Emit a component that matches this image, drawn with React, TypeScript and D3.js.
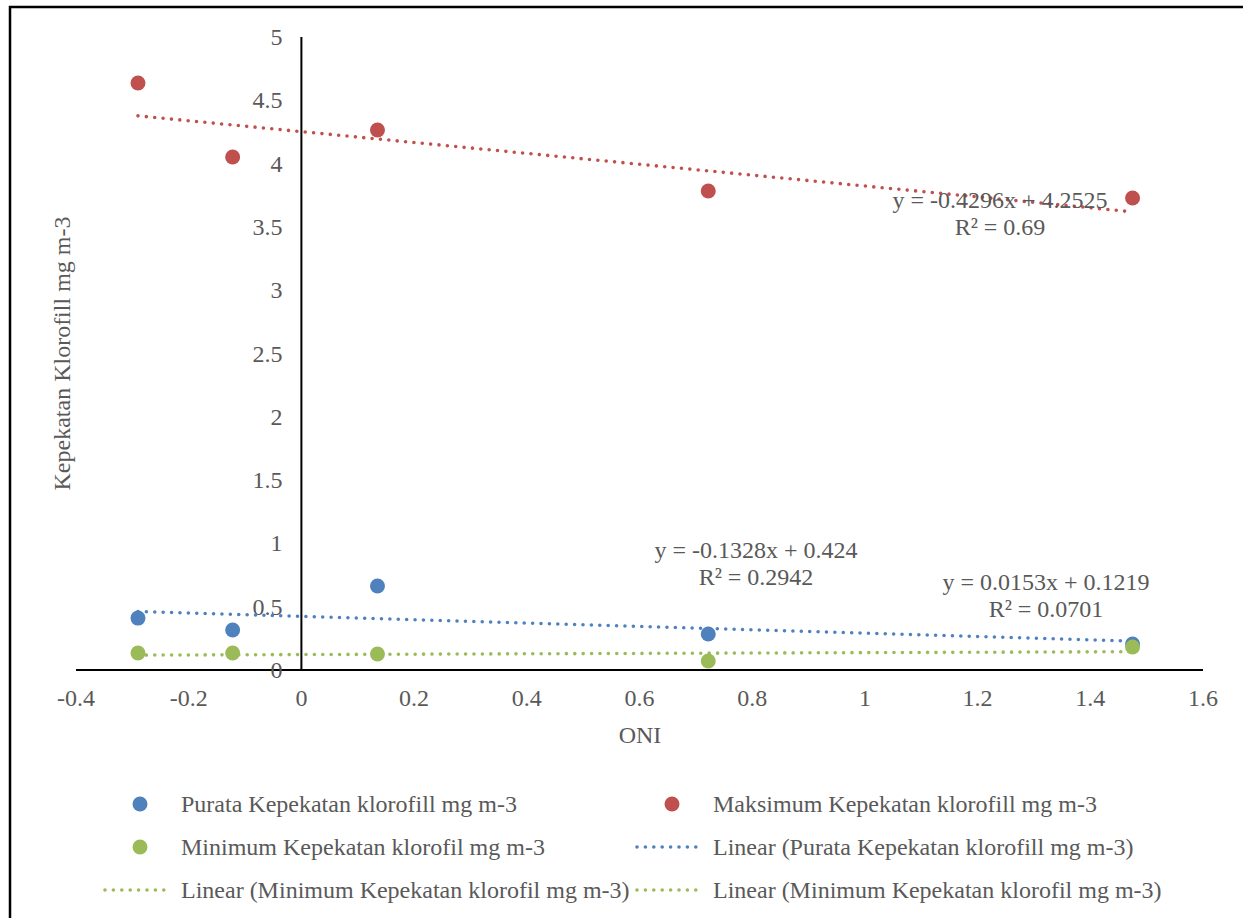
import * as d3 from "d3"

// ONI on x, chlorophyll concentration on y
const oni = [-0.29, -0.122, 0.135, 0.722, 1.475]
const purata = [0.41, 0.316, 0.663, 0.284, 0.205]
const maksimum = [4.637, 4.052, 4.265, 3.784, 3.728]
const minimum = [0.134, 0.134, 0.126, 0.071, 0.182]

const xTicks = [-0.4, -0.2, 0, 0.2, 0.4, 0.6, 0.8, 1, 1.2, 1.4, 1.6]
const yTicks = [0, 0.5, 1, 1.5, 2, 2.5, 3, 3.5, 4, 4.5, 5]

// trendline coefficients as printed on the chart
const trendSlopes = [-0.1328, -0.4296, 0.0153]
const trendIntercepts = [0.424, 4.2525, 0.1219]
const trendEquations = [
  ["y = -0.1328x + 0.424", "R² = 0.2942"],
  ["y = -0.4296x + 4.2525", "R² = 0.69"],
  ["y = 0.0153x + 0.1219", "R² = 0.0701"],
]

const seriesNames = [
  "Purata Kepekatan klorofill mg m-3",
  "Maksimum Kepekatan klorofill mg m-3",
  "Minimum Kepekatan klorofil mg m-3",
]
const legendLabels = [
  "Purata Kepekatan klorofill mg m-3",
  "Maksimum Kepekatan klorofill mg m-3",
  "Minimum Kepekatan klorofil mg m-3",
  "Linear (Purata Kepekatan klorofill mg m-3)",
  "Linear (Minimum Kepekatan klorofil mg m-3)",
  "Linear (Minimum Kepekatan klorofil mg m-3)",
]

const colors = ["#4F81BD", "#C0504D", "#9BBB59"]
const textColor = "#595959"
const font = "'Liberation Serif', 'Times New Roman', serif"

const W = 1243
const H = 918

export default function App() {
  const x = d3.scaleLinear().domain([-0.4, 1.6]).range([76, 1203])
  const y = d3.scaleLinear().domain([0, 5]).range([670, 37])
  const series = [purata, maksimum, minimum]

  const line = d3
    .line<number>()
    .x((d) => x(d))

  const xMin = d3.min(oni) as number
  const xMax = d3.max(oni) as number

  // equation label anchor points (pixel offsets kept here, not in data)
  const eqPos = [
    { cx: 756, cy: 550 },
    { cx: 1000, cy: 200 },
    { cx: 1046, cy: 582 },
  ]

  const dotted = {
    strokeWidth: 3.6,
    strokeDasharray: "0 8.4",
    strokeLinecap: "round" as const,
    fill: "none",
  }

  // legend layout: [col x, row y, kind, colorIndex]
  const legendItems: Array<{ col: number; row: number; kind: "dot" | "line"; c: number }> = [
    { col: 0, row: 0, kind: "dot", c: 0 },
    { col: 1, row: 0, kind: "dot", c: 1 },
    { col: 0, row: 1, kind: "dot", c: 2 },
    { col: 1, row: 1, kind: "line", c: 0 },
    { col: 0, row: 2, kind: "line", c: 2 },
    { col: 1, row: 2, kind: "line", c: 2 },
  ]
  const colX = [140, 672]
  const rowY = [804, 847, 890]

  return (
    <svg
      width={W}
      height={H}
      style={{ position: "absolute", left: 0, top: 0, display: "block", background: "#fff" }}
      fontFamily={font}
    >
      <rect x={0} y={0} width={W} height={H} fill="#fff" />
      <rect x={10} y={7} width={1400} height={1100} fill="none" stroke="#000" strokeWidth={2.5} />

      {/* axes */}
      <line x1={x(-0.4)} x2={x(1.6)} y1={y(0)} y2={y(0)} stroke="#000" strokeWidth={2} />
      <line x1={x(0)} x2={x(0)} y1={y(0)} y2={y(5)} stroke="#000" strokeWidth={2} />

      {xTicks.map((t) => (
        <text
          key={"x" + t}
          x={x(t)}
          y={y(0) + 28}
          fontSize={24}
          fill={textColor}
          textAnchor="middle"
          dominantBaseline="central"
        >
          {String(t)}
        </text>
      ))}
      {yTicks.map((t) => (
        <text
          key={"y" + t}
          x={x(0) - 19}
          y={y(t)}
          fontSize={24}
          fill={textColor}
          textAnchor="end"
          dominantBaseline="central"
        >
          {String(t)}
        </text>
      ))}

      <text x={640} y={735} fontSize={24} fill={textColor} textAnchor="middle" dominantBaseline="central">
        ONI
      </text>
      <text
        transform={`translate(62,${(y(0) + y(5)) / 2}) rotate(-90)`}
        fontSize={24}
        fill={textColor}
        textAnchor="middle"
        dominantBaseline="central"
      >
        Kepekatan Klorofill mg m-3
      </text>

      {/* trendlines */}
      {series.map((_, i) => {
        const f = (v: number) => trendSlopes[i] * v + trendIntercepts[i]
        const path = line.y((d) => y(f(d)))([xMin, xMax]) || ""
        return <path key={"t" + i} d={path} stroke={colors[i]} {...dotted} />
      })}

      {/* points */}
      {series.map((s, i) =>
        s.map((v, j) => (
          <circle key={`p${i}-${j}`} cx={x(oni[j])} cy={y(v)} r={7.5} fill={colors[i]}>
            <title>{seriesNames[i]}</title>
          </circle>
        ))
      )}

      {/* equation labels */}
      {trendEquations.map((eq, i) => (
        <g key={"e" + i}>
          <text
            x={eqPos[i].cx}
            y={eqPos[i].cy}
            fontSize={24}
            fill={textColor}
            textAnchor="middle"
            dominantBaseline="central"
          >
            {eq[0]}
          </text>
          <text
            x={eqPos[i].cx}
            y={eqPos[i].cy + 27}
            fontSize={24}
            fill={textColor}
            textAnchor="middle"
            dominantBaseline="central"
          >
            {eq[1]}
          </text>
        </g>
      ))}

      {/* legend */}
      {legendItems.map((it, k) => {
        const lx = colX[it.col]
        const ly = rowY[it.row]
        return (
          <g key={"l" + k}>
            {it.kind === "dot" ? (
              <circle cx={lx} cy={ly} r={7.5} fill={colors[it.c]} />
            ) : (
              <line x1={lx - 35} x2={lx + 28} y1={ly} y2={ly} stroke={colors[it.c]} {...dotted} />
            )}
            <text x={lx + 41} y={ly} fontSize={24} fill={textColor} dominantBaseline="central">
              {legendLabels[k]}
            </text>
          </g>
        )
      })}
    </svg>
  )
}
